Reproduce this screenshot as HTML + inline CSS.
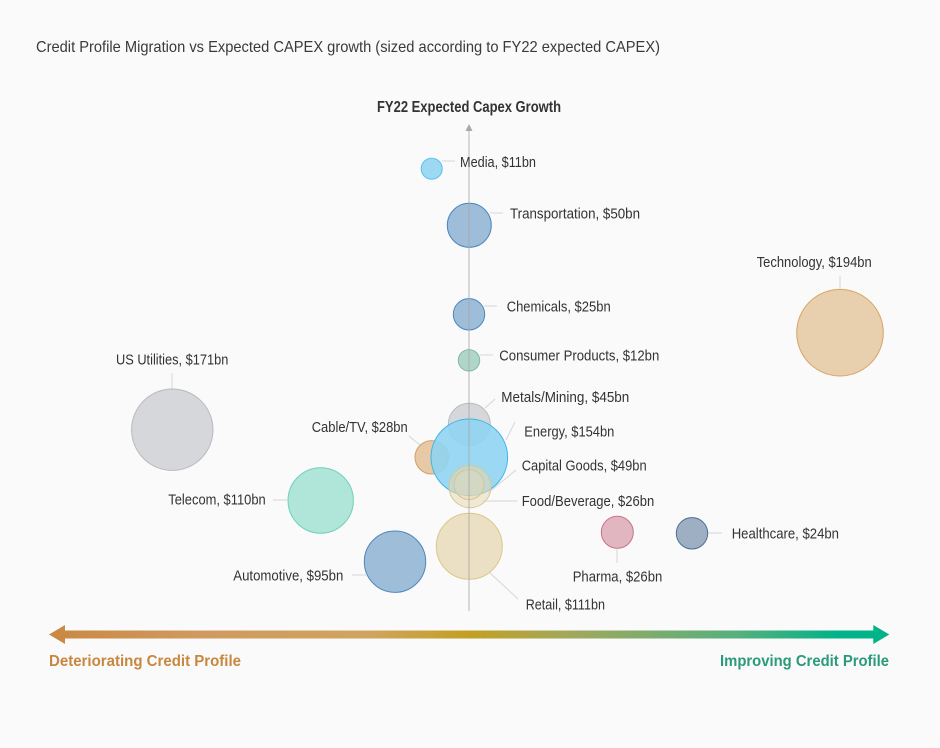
<!DOCTYPE html>
<html><head><meta charset="utf-8"><style>
html,body{margin:0;padding:0;background:#fafafa;}
svg{display:block;}
text{font-family:"Liberation Sans Narrow","Liberation Sans",sans-serif;}
</style></head><body>
<svg width="940" height="748" viewBox="0 0 940 748" xmlns="http://www.w3.org/2000/svg">
<defs>
<linearGradient id="g" x1="49" y1="0" x2="889" y2="0" gradientUnits="userSpaceOnUse">
<stop offset="0" stop-color="#c98844"/>
<stop offset="0.18" stop-color="#d09a5e"/>
<stop offset="0.38" stop-color="#d0a45e"/>
<stop offset="0.5" stop-color="#c3a024"/>
<stop offset="0.62" stop-color="#a2a85c"/>
<stop offset="0.82" stop-color="#55b07e"/>
<stop offset="0.94" stop-color="#00b388"/>
<stop offset="1" stop-color="#00b388"/>
</linearGradient>
</defs>
<rect width="940" height="748" fill="#fafafa"/>
<text x="36" y="52" font-size="16" fill="#3a3a3a" textLength="624" lengthAdjust="spacingAndGlyphs">Credit Profile Migration vs Expected CAPEX growth (sized according to FY22 expected CAPEX)</text>
<text x="377" y="112" font-size="16" font-weight="bold" fill="#333" textLength="184" lengthAdjust="spacingAndGlyphs">FY22 Expected Capex Growth</text>

<!-- leader lines -->
<g stroke="#dcdcdc" stroke-width="1.2" fill="none">
<line x1="442" y1="161" x2="455" y2="161"/>
<line x1="490" y1="213" x2="503" y2="213"/>
<line x1="484" y1="306" x2="497" y2="306"/>
<line x1="480" y1="355" x2="493" y2="355"/>
<line x1="485" y1="408" x2="495" y2="399"/>
<line x1="506" y1="440" x2="515" y2="422"/>
<line x1="488" y1="493" x2="516" y2="470"/>
<line x1="483" y1="501" x2="517" y2="501"/>
<line x1="490" y1="573" x2="518" y2="599"/>
<line x1="409" y1="436" x2="420" y2="445"/>
<line x1="617" y1="549" x2="617" y2="563"/>
<line x1="708" y1="533" x2="722" y2="533"/>
<line x1="840" y1="276" x2="840" y2="289"/>
<line x1="172" y1="373" x2="172" y2="389"/>
<line x1="273" y1="500" x2="287" y2="500"/>
<line x1="352" y1="575" x2="366" y2="575"/>
</g>

<!-- bubbles -->
<g stroke-width="1">
<circle cx="172.3" cy="429.7" r="40.7" fill="#d6d7da" stroke="#b9babd"/>
<circle cx="840" cy="332.7" r="43.3" fill="#e8cfae" stroke="#d6a563"/>
<circle cx="320.7" cy="500.5" r="32.7" fill="#b0e5d9" stroke="#6fd1b8"/>
<circle cx="395" cy="561.7" r="30.7" fill="#9dbdd9" stroke="#4f86bf"/>
<circle cx="617.3" cy="532.3" r="16" fill="#e1b6c1" stroke="#c9728a"/>
<circle cx="692" cy="533.3" r="15.7" fill="#9eafc4" stroke="#4b6d96"/>
<circle cx="431.7" cy="168.7" r="10.5" fill="#9dd9f3" stroke="#5bc0eb"/>
<circle cx="469.3" cy="225.3" r="22" fill="#9dbdd9" stroke="#4f86bf"/>
<circle cx="469" cy="314.3" r="15.7" fill="#9dbdd9" stroke="#4f86bf"/>
<circle cx="469" cy="360.3" r="10.7" fill="#b0d6c9" stroke="#7fb9a6"/>
<circle cx="469.3" cy="546.3" r="33" fill="#ebe0c3" stroke="#dcc690"/>
<circle cx="469.3" cy="424.3" r="21" fill="#d6d7da" stroke="#b9babd"/>
<circle cx="431.7" cy="457.3" r="16.7" fill="#e8c9a5" stroke="#d1a06a"/>
<circle cx="469.3" cy="457.3" r="38.3" fill="#8fd4f2" fill-opacity="0.9" stroke="#3fb4e5"/>
<circle cx="470" cy="486.7" r="21" fill="#e6d9b4" fill-opacity="0.55" stroke="#dcc690"/>
<circle cx="469" cy="484.5" r="15" fill="#e6d9b4" fill-opacity="0.45" stroke="#d8c48e"/>
</g>

<!-- vertical axis -->
<line x1="469" y1="128" x2="469" y2="611" stroke="#a8a8a8" stroke-width="1" stroke-opacity="0.85"/>
<polygon points="469,124 465.5,131 472.5,131" fill="#a8a8a8"/>

<!-- labels -->
<g font-size="15" fill="#333">
<text x="460" y="167" textLength="76" lengthAdjust="spacingAndGlyphs">Media, $11bn</text>
<text x="510" y="218.5" textLength="130" lengthAdjust="spacingAndGlyphs">Transportation, $50bn</text>
<text x="506.7" y="311.5" textLength="104" lengthAdjust="spacingAndGlyphs">Chemicals, $25bn</text>
<text x="499.3" y="360.5" textLength="160" lengthAdjust="spacingAndGlyphs">Consumer Products, $12bn</text>
<text x="501.3" y="402" textLength="128" lengthAdjust="spacingAndGlyphs">Metals/Mining, $45bn</text>
<text x="524.3" y="436.5" textLength="90" lengthAdjust="spacingAndGlyphs">Energy, $154bn</text>
<text x="521.7" y="470.5" textLength="125" lengthAdjust="spacingAndGlyphs">Capital Goods, $49bn</text>
<text x="521.7" y="506" textLength="132.6" lengthAdjust="spacingAndGlyphs">Food/Beverage, $26bn</text>
<text x="525.7" y="609.5" textLength="79.3" lengthAdjust="spacingAndGlyphs">Retail, $111bn</text>
<text x="311.7" y="432" textLength="96" lengthAdjust="spacingAndGlyphs">Cable/TV, $28bn</text>
<text x="572.7" y="581.5" textLength="89.6" lengthAdjust="spacingAndGlyphs">Pharma, $26bn</text>
<text x="731.7" y="538.5" textLength="107.3" lengthAdjust="spacingAndGlyphs">Healthcare, $24bn</text>
<text x="756.7" y="267" textLength="115" lengthAdjust="spacingAndGlyphs">Technology, $194bn</text>
<text x="116" y="364.5" textLength="112.3" lengthAdjust="spacingAndGlyphs">US Utilities, $171bn</text>
<text x="168.3" y="504.5" textLength="97.4" lengthAdjust="spacingAndGlyphs">Telecom, $110bn</text>
<text x="233.3" y="580.5" textLength="110" lengthAdjust="spacingAndGlyphs">Automotive, $95bn</text>
</g>

<!-- bottom arrow -->
<polygon points="49,634.5 65,625 65,630.5 873.3,630.5 873.3,625 889.3,634.5 873.3,644 873.3,638.5 65,638.5 65,644" fill="url(#g)"/>
<text x="49" y="666" font-size="16" font-weight="bold" fill="#c8873f" textLength="192" lengthAdjust="spacingAndGlyphs">Deteriorating Credit Profile</text>
<text x="720" y="666" font-size="16" font-weight="bold" fill="#2a9a7a" textLength="169" lengthAdjust="spacingAndGlyphs">Improving Credit Profile</text>
</svg>
</body></html>
